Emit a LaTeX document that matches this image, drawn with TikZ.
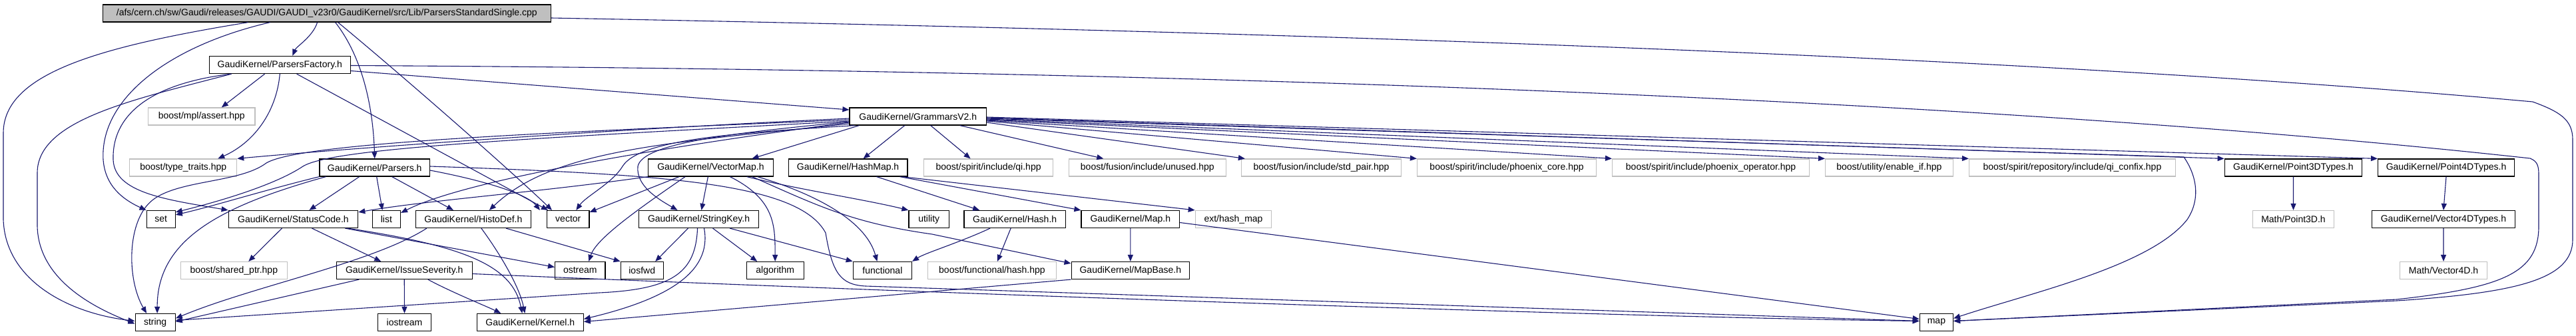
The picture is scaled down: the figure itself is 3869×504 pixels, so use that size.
\documentclass[tikz,border=0pt]{standalone}
\usepackage{fontspec}
\setmainfont{Liberation Sans}
\usetikzlibrary{arrows.meta}
\definecolor{edgeblue}{HTML}{191970}
\definecolor{extgray}{HTML}{BFBFBF}
\definecolor{rootgray}{HTML}{BFBFBF}
\begin{document}
\begin{tikzpicture}[x=1pt,y=-1pt,
  gbox/.style={draw=black,line width=1.2pt,minimum height=26pt,inner sep=0pt,font=\fontsize{14}{16}\selectfont},
  xbox/.style={gbox,draw=extgray},
  rbox/.style={gbox,fill=rootgray},
  dep/.style={draw=edgeblue,line width=1.1pt,-{Triangle[length=10pt,width=8pt]}},
]
\fill[white] (0,0) rectangle (3869,504);
\path[use as bounding box] (0,0) rectangle (3869,504);

% row 1
\node[rbox,minimum width=673.2pt] (root) at (490.8,20) {/afs/cern.ch/sw/Gaudi/releases/GAUDI/GAUDI\_v23r0/GaudiKernel/src/Lib/ParsersStandardSingle.cpp};
% row 2
\node[gbox,minimum width=212.3pt] (PF) at (420.35,97.5) {GaudiKernel/ParsersFactory.h};
% row 3
\node[xbox,minimum width=160.4pt] (mpl) at (302.8,175) {boost/mpl/assert.hpp};
\node[gbox,minimum width=205.5pt] (G) at (1378.75,175) {GaudiKernel/GrammarsV2.h};
% row 4
\node[xbox,minimum width=160.9pt] (tt) at (275.25,252) {boost/type\_traits.hpp};
\node[gbox,minimum width=165.4pt] (Parsers) at (562.7,252) {GaudiKernel/Parsers.h};
\node[gbox,minimum width=187.4pt] (VectorMap) at (1067.4,252) {GaudiKernel/VectorMap.h};
\node[gbox,minimum width=178.6pt] (HashMap) at (1273.6,252) {GaudiKernel/HashMap.h};
\node[xbox,minimum width=193.6pt] (qi) at (1484.6,252) {boost/spirit/include/qi.hpp};
\node[xbox,minimum width=235.9pt] (unused) at (1723.35,252) {boost/fusion/include/unused.hpp};
\node[xbox,minimum width=240pt] (stdpair) at (1984.5,252) {boost/fusion/include/std\_pair.hpp};
\node[xbox,minimum width=269.1pt] (pcore) at (2263.05,252) {boost/spirit/include/phoenix\_core.hpp};
\node[xbox,minimum width=295.9pt] (pop) at (2569.55,252) {boost/spirit/include/phoenix\_operator.hpp};
\node[xbox,minimum width=191.5pt] (enableif) at (2837.35,252) {boost/utility/enable\_if.hpp};
\node[xbox,minimum width=309.9pt] (confix) at (3112.45,252) {boost/spirit/repository/include/qi\_confix.hpp};
\node[gbox,minimum width=206.5pt] (P3) at (3444.45,252) {GaudiKernel/Point3DTypes.h};
\node[gbox,minimum width=204.8pt] (P4) at (3674,252) {GaudiKernel/Point4DTypes.h};
% row 5
\node[gbox,minimum width=43.1pt] (set) at (241.65,329.5) {set};
\node[gbox,minimum width=194.5pt] (StatusCode) at (440.45,329.5) {GaudiKernel/StatusCode.h};
\node[gbox,minimum width=42.3pt] (list) at (580.35,329.5) {list};
\node[gbox,minimum width=173.2pt] (HistoDef) at (710.9,329.5) {GaudiKernel/HistoDef.h};
\node[gbox,minimum width=63.4pt] (vector) at (853.3,329.5) {vector};
\node[gbox,minimum width=179.9pt] (StringKey) at (1049.55,329.5) {GaudiKernel/StringKey.h};
\node[gbox,minimum width=60.5pt] (utility) at (1395.25,329.5) {utility};
\node[gbox,minimum width=152.5pt] (Hash) at (1524.15,329.5) {GaudiKernel/Hash.h};
\node[gbox,minimum width=147.6pt] (Map) at (1697.8,329.5) {GaudiKernel/Map.h};
\node[xbox,minimum width=114.4pt] (ext) at (1852.5,329.5) {ext/hash\_map};
\node[xbox,minimum width=122pt] (MP3) at (3444.5,329.5) {Math/Point3D.h};
\node[gbox,minimum width=215.5pt] (V4) at (3669.95,329.5) {GaudiKernel/Vector4DTypes.h};
% row 6
\node[xbox,minimum width=159.6pt] (sp) at (351.3,406.5) {boost/shared\_ptr.hpp};
\node[gbox,minimum width=203.9pt] (IS) at (607.25,406.5) {GaudiKernel/IssueSeverity.h};
\node[gbox,minimum width=75.4pt] (ostream) at (871.3,406.5) {ostream};
\node[gbox,minimum width=63.8pt] (iosfwd) at (964.2,406.5) {iosfwd};
\node[gbox,minimum width=85.8pt] (algorithm) at (1164.2,406.5) {algorithm};
\node[gbox,minimum width=88.2pt] (functional) at (1325.4,406.5) {functional};
\node[xbox,minimum width=192.7pt] (bfh) at (1489.95,406.5) {boost/functional/hash.hpp};
\node[gbox,minimum width=177.5pt] (MapBase) at (1697.85,406.5) {GaudiKernel/MapBase.h};
\node[xbox,minimum width=131pt] (MV4) at (3670,406.5) {Math/Vector4D.h};
% row 7
\node[gbox,minimum width=60.1pt] (string) at (233.15,484.5) {string};
\node[gbox,minimum width=80pt] (iostream) at (607.5,484.5) {iostream};
\node[gbox,minimum width=160pt] (Kernel) at (796.3,484.5) {GaudiKernel/Kernel.h};
\node[gbox,minimum width=50.2pt] (map) at (2908.4,484.5) {map};

% ---- root
\draw[dep] ([xshift=323]root.south west) .. controls (470,55) and (445,70) .. ([xshift=19]PF.north);
\draw[dep] ([xshift=350]root.south west) .. controls (540,80) and (560,150) .. (Parsers.north);
\draw[dep] ([xshift=219]root.south west) .. controls (150,70) and (5,110) .. (5,200) -- (5,330) .. controls (8,420) and (100,470) .. ([yshift=2]string.west);
\draw[dep] ([xshift=252]root.south west) .. controls (250,70) and (150,150) .. (155,240) .. controls (158,280) and (185,300) .. (set.north west);
\draw[dep] ([xshift=354]root.south west) .. controls (600,110) and (760,250) .. ([xshift=8]vector.north west);
\draw[dep] ([yshift=-7]root.east) .. controls (1800,45) and (3000,80) .. (3804,153) .. controls (3845,168) and (3864,180) .. (3864,210) -- (3864,360) .. controls (3864,420) and (3780,440) .. (3600,452) -- ([yshift=2]map.east);

% ---- ParsersFactory
\draw[dep] ([xshift=34]PF.south west) .. controls (200,150) and (56,180) .. (56,260) -- (56,340) .. controls (58,420) and (140,462) .. ([yshift=-2]string.west);
\draw[dep] ([xshift=34]PF.south west) .. controls (230,125) and (168,170) .. (170,240) .. controls (172,290) and (250,300) .. (StatusCode.north west);
\draw[dep] ([xshift=84]PF.south west) -- ([xshift=30]mpl.north);
\draw[dep] (PF.south) .. controls (415,170) and (380,215) .. ([xshift=52]tt.north);
\draw[dep] ([xshift=132]PF.south west) -- ([xshift=2]vector.north west);
\draw[dep] ([yshift=-9]PF.east) -- ([yshift=10]G.west);
\draw[dep] ([yshift=-1]PF.east) .. controls (1800,105) and (3000,150) .. (3800,238) .. controls (3810,242) and (3813,248) .. (3813,262) -- (3813,340) .. controls (3813,410) and (3760,432) .. (3600,450) -- ([yshift=2]map.east);

% ---- GrammarsV2 left side
\draw[dep] ([yshift=-3]G.west) .. controls (900,195) and (500,225) .. (tt.north east);
\draw[dep] ([yshift=-5]G.west) .. controls (800,200) and (450,215) .. (400,245) .. controls (360,275) and (270,270) .. (230,300) .. controls (190,330) and (190,420) .. ([xshift=-13]string.north);
\draw[dep] ([yshift=-7]G.west) .. controls (800,208) and (500,222) .. (455,250) .. controls (410,280) and (320,305) .. ([yshift=-3]set.north east);
\draw[dep] ([yshift=-9]G.west) .. controls (1000,220) and (700,270) .. ([yshift=-4]list.north east);
\draw[dep] ([yshift=-11]G.west) .. controls (1000,215) and (830,225) .. ([xshift=24]HistoDef.north);
\draw[dep] ([xshift=8]G.south west) .. controls (1100,200) and (960,210) .. (935,250) .. controls (920,275) and (880,295) .. ([xshift=12]vector.north);
\draw[dep] ([yshift=-8]G.west) .. controls (1100,200) and (965,215) .. (958,250) .. controls (955,280) and (990,300) .. ([xshift=-32]StringKey.north);
\draw[dep] ([xshift=15]G.south west) -- ([xshift=62]VectorMap.north);
\draw[dep] ([xshift=-20]G.south) -- ([xshift=23]HashMap.north);
\draw[dep] ([xshift=19]G.south) -- ([xshift=-27]qi.north);
\draw[dep] ([xshift=63]G.south) -- ([xshift=-66]unused.north);
% ---- GrammarsV2 right side
\draw[dep] ([yshift=-9]G.east) -- ([xshift=6]stdpair.north west);
\draw[dep] ([yshift=-7]G.east) -- (pcore.north west);
\draw[dep] ([yshift=-6]G.east) -- (pop.north west);
\draw[dep] ([yshift=-5]G.east) -- (enableif.north west);
\draw[dep] ([yshift=-4]G.east) -- (confix.north west);
\draw[dep] ([yshift=-2]G.east) -- (P3.north west);
\draw[dep] ([yshift=-1]G.east) -- (P4.north west);
\draw[dep] ([yshift=-3]G.east) -- (3280,236) .. controls (3300,265) and (3305,300) .. (3285,330) .. controls (3230,400) and (3050,440) .. ([yshift=6]map.east);

% ---- Parsers
\draw[dep] (Parsers.south west) .. controls (400,285) and (320,310) .. ([yshift=-7]set.north east);
\draw[dep] ([xshift=10]Parsers.south west) .. controls (330,310) and (236,360) .. ([xshift=3]string.north);
\draw[dep] ([xshift=-23]Parsers.south) -- ([xshift=24]StatusCode.north);
\draw[dep] ([xshift=3]Parsers.south) -- ([xshift=-6]list.north);
\draw[dep] ([xshift=26]Parsers.south) -- ([xshift=-30]HistoDef.north);
\draw[dep] ([yshift=-4]Parsers.east) .. controls (720,270) and (790,290) .. ([xshift=-10]vector.north west);
\draw[dep] ([yshift=2]Parsers.east) .. controls (1000,262) and (1200,275) .. (1240,350) .. controls (1250,410) and (1262,428) .. (1300,430) -- ([yshift=2]map.west);

% ---- VectorMap
\draw[dep] (VectorMap.south west) .. controls (800,290) and (650,300) .. ([yshift=-3]StatusCode.north east);
\draw[dep] ([xshift=47]VectorMap.south west) -- ([yshift=-3]vector.north east);
\draw[dep] ([xshift=56]VectorMap.south west) .. controls (950,320) and (895,360) .. ([xshift=13]ostream.north);
\draw[dep] ([xshift=-4]VectorMap.south) -- ([xshift=4]StringKey.north);
\draw[dep] ([xshift=29]VectorMap.south) .. controls (1165,300) and (1164,340) .. (algorithm.north);
\draw[dep] ([xshift=-40]VectorMap.south east) .. controls (1200,285) and (1300,300) .. (utility.north west);
\draw[dep] ([xshift=-32]VectorMap.south east) .. controls (1230,310) and (1280,335) .. (1400,352) -- ([yshift=-3]MapBase.north west);
\draw[dep] ([xshift=-24]VectorMap.south east) .. controls (1220,290) and (1300,330) .. ([xshift=-8]functional.north);

% ---- HashMap, Hash, Map
\draw[dep] ([xshift=43]HashMap.south) -- ([xshift=-53]Hash.north);
\draw[dep] ([xshift=-12]HashMap.south east) -- (Map.north west);
\draw[dep] ([xshift=-8]HashMap.south east) -- (ext.north west);
\draw[dep] ([xshift=-37]Hash.south) .. controls (1440,365) and (1390,380) .. (functional.north east);
\draw[dep] ([xshift=-6]Hash.south) -- ([xshift=8]bfh.north);
\draw[dep] (Map.south) -- (MapBase.north);
\draw[dep] ([yshift=-5]Map.east) -- ([yshift=5]map.west);
\draw[dep] (MapBase.south west) -- ([yshift=1]Kernel.east);

% ---- StringKey
\draw[dep] ([xshift=8]StringKey.south) .. controls (1070,410) and (1000,450) .. ([yshift=5]Kernel.east);
\draw[dep] ([xshift=-2]StringKey.south) .. controls (1045,410) and (1010,435) .. (900,440) -- ([yshift=3]string.east);
\draw[dep] ([xshift=-16]StringKey.south) -- ([xshift=20]iosfwd.north);
\draw[dep] ([xshift=21]StringKey.south) -- ([xshift=-27]algorithm.north);
\draw[dep] ([xshift=-44]StringKey.south east) -- (functional.north west);

% ---- HistoDef
\draw[dep] ([xshift=12]HistoDef.south) .. controls (750,380) and (780,430) .. ([xshift=-8]Kernel.north);
\draw[dep] ([xshift=49]HistoDef.south) -- (iosfwd.north west);
\draw[dep] ([xshift=-70]HistoDef.south) .. controls (560,395) and (380,430) .. ([yshift=6]string.east);

% ---- StatusCode
\draw[dep] ([xshift=-17]StatusCode.south) -- ([xshift=22]sp.north);
\draw[dep] ([xshift=28]StatusCode.south) -- ([xshift=-35]IS.north);
\draw[dep] ([xshift=-20]StatusCode.south east) -- ([yshift=5]ostream.west);
\draw[dep] ([xshift=-16]StatusCode.south east) .. controls (700,370) and (770,400) .. ([xshift=-12]Kernel.north);

% ---- IssueSeverity
\draw[dep] ([xshift=-68]IS.south) -- ([yshift=1]string.east);
\draw[dep] (IS.south) -- (iostream.north);
\draw[dep] ([xshift=-67]IS.south east) .. controls (680,440) and (730,460) .. ([xshift=-44]Kernel.north);
\draw[dep] ([yshift=-5]IS.east) .. controls (1500,445) and (2500,478) .. ([yshift=2]map.west);

% ---- Point types
\draw[dep] (P3.south) -- (MP3.north);
\draw[dep] (P4.south) -- (V4.north);
\draw[dep] (V4.south) -- (MV4.north);
\end{tikzpicture}
\end{document}
